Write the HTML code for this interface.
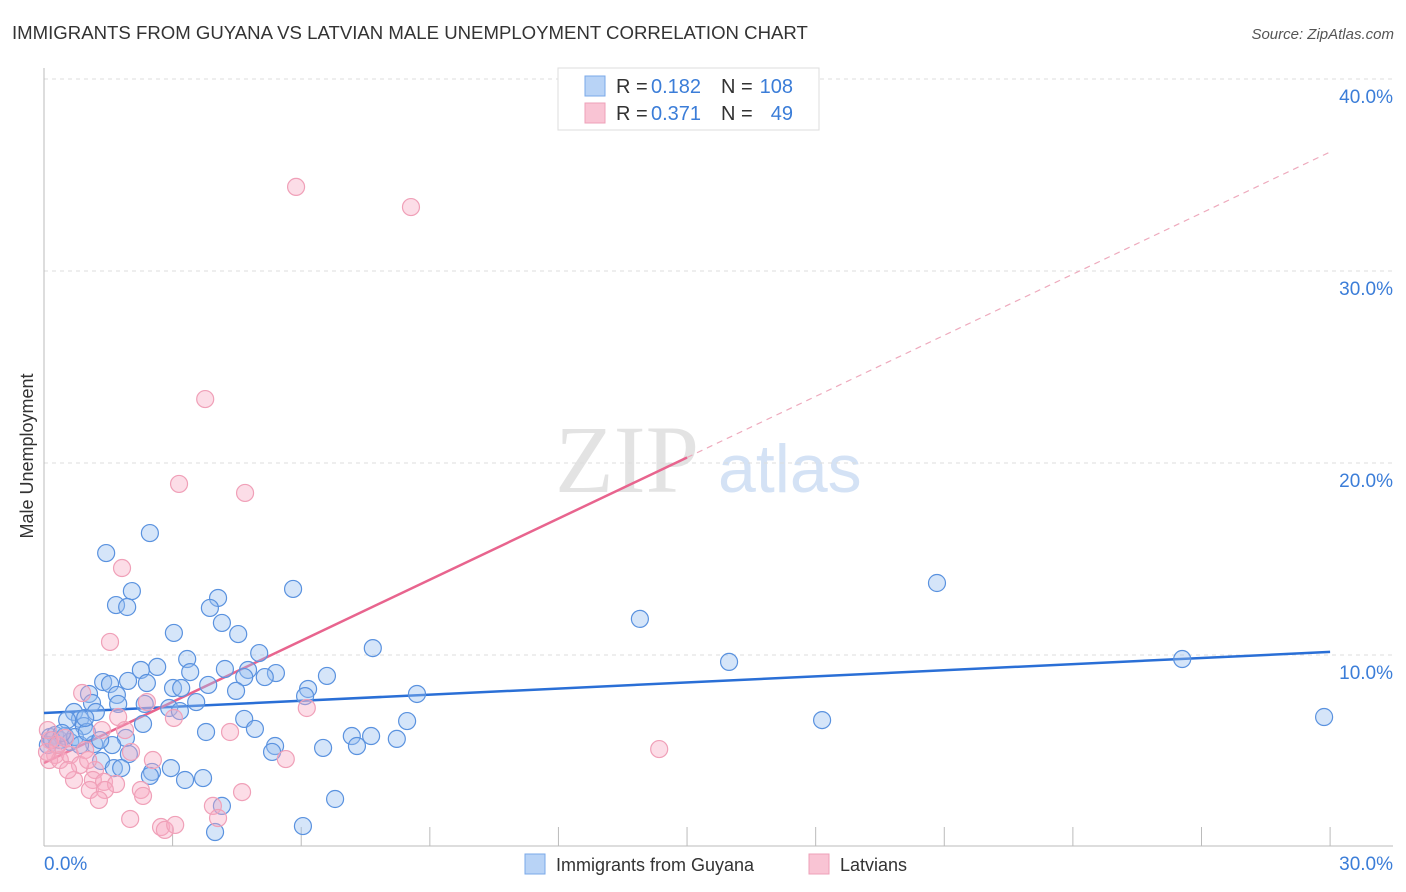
<!DOCTYPE html>
<html><head><meta charset="utf-8"><style>
body{margin:0;background:#fff;font-family:"Liberation Sans",sans-serif;}
svg{display:block}
</style></head><body>
<svg id="c" width="1406" height="892" xmlns="http://www.w3.org/2000/svg">
<text x="12" y="39" font-size="18.6" fill="#333">IMMIGRANTS FROM GUYANA VS LATVIAN MALE UNEMPLOYMENT CORRELATION CHART</text>
<text x="1394" y="39" font-size="15" fill="#555" text-anchor="end" font-style="italic">Source: ZipAtlas.com</text>
<text transform="translate(33,456) rotate(-90)" font-size="18" fill="#333" text-anchor="middle">Male Unemployment</text>
<g>
<text x="555" y="492" font-size="96" fill="#d8d8d8" font-family="Liberation Serif,serif" opacity="0.7">ZIP</text>
<text x="718" y="492" font-size="68" fill="#b8d0f0" opacity="0.6">atlas</text>
</g>
<g id="grid"></g><g id="axes"></g><g id="lines"></g><g id="pts"></g>
<g>
<rect x="558" y="68" width="261" height="62" fill="#fff" stroke="#ddd"/>
<rect x="585" y="76" width="20" height="20" fill="#b8d3f6" stroke="#7aa8e8"/>
<rect x="585" y="103" width="20" height="20" fill="#f9c4d4" stroke="#eea0b8"/>
<text x="616" y="93" font-size="20" fill="#333">R =</text>
<text x="651" y="93" font-size="20" fill="#3b7dd8">0.182</text>
<text x="721" y="93" font-size="20" fill="#333">N =</text>
<text x="793" y="93" font-size="20" fill="#3b7dd8" text-anchor="end">108</text>
<text x="616" y="120" font-size="20" fill="#333">R =</text>
<text x="651" y="120" font-size="20" fill="#3b7dd8">0.371</text>
<text x="721" y="120" font-size="20" fill="#333">N =</text>
<text x="793" y="120" font-size="20" fill="#3b7dd8" text-anchor="end">49</text>
</g>
<g>
<rect x="525" y="854" width="20" height="20" fill="#b8d3f6" stroke="#7aa8e8"/>
<text x="556" y="871" font-size="18" fill="#333">Immigrants from Guyana</text>
<rect x="809" y="854" width="20" height="20" fill="#f9c4d4" stroke="#eea0b8"/>
<text x="840" y="871" font-size="18" fill="#333">Latvians</text>
</g>
</svg>
<script>
const yTicks=[10,20,30,40];
const yTickLabels=["10.0%","20.0%","30.0%","40.0%"];
const xTicks=[0,3,6,9,12,15,18,21,24,27,30];
const blueX=[2.47,1.45,2.05,1.68,1.94,5.81,4.06,3.87,4.15,4.53,3.03,13.9,20.83,7.67,5.02,3.34,15.98,26.55,2.64,2.26,3.41,4.22,4.76,5.41,5.15,6.6,4.67,1.38,1.54,1.96,2.4,3.01,3.2,3.83,4.48,6.16,6.09,8.7,1.05,1.7,3.55,2.92,3.17,2.35,1.12,1.73,1.21,0.7,0.84,0.54,4.67,8.47,18.15,29.86,2.31,0.93,4.92,3.78,7.18,7.63,8.23,7.3,6.51,5.39,5.32,1.91,1.59,1.17,1.98,1.33,1.63,1.8,2.96,2.52,2.47,3.29,3.71,4.15,6.79,3.99,6.04,0.14,0.26,0.37,0.49,0.09,0.61,0.3,0.72,0.84,0.19,0.42,1.0,1.31,0.96];
const blueY=[16.35,15.31,13.33,12.6,12.5,13.44,12.97,12.45,11.67,11.09,11.15,11.88,13.75,10.36,10.1,9.79,9.64,9.79,9.38,9.22,9.11,9.27,9.22,9.06,8.85,8.91,8.85,8.59,8.49,8.65,8.54,8.28,8.28,8.44,8.13,8.23,7.86,7.97,7.97,7.92,7.55,7.24,7.08,7.45,7.5,7.45,7.03,7.03,6.67,6.61,6.67,6.56,6.61,6.77,6.41,6.3,6.15,5.99,5.78,5.78,5.63,5.26,5.16,5.26,4.95,5.68,5.31,5.36,4.84,4.48,4.11,4.11,4.11,3.91,3.7,3.49,3.59,2.14,2.5,0.78,1.09,5.73,5.83,5.57,5.78,5.31,5.47,5.31,5.73,5.31,5.57,5.94,5.99,5.57,6.72];
const pinkX=[5.88,8.56,3.76,3.15,4.69,1.82,1.54,0.89,2.4,1.73,3.03,6.13,4.34,14.35,5.64,2.03,2.54,1.35,1.89,0.26,0.12,0.37,0.61,0.96,1.19,1.14,0.7,1.4,1.68,1.07,1.42,1.28,2.26,2.31,4.62,3.94,4.06,2.01,2.73,2.82,3.06,0.14,0.09,0.33,0.49,0.07,0.84,1.03,0.56];
const pinkY=[34.38,33.33,23.33,18.91,18.44,14.53,10.68,8.02,7.55,6.77,6.72,7.24,5.99,5.1,4.58,4.95,4.53,6.09,6.09,4.79,4.53,4.53,4.79,5.05,4.01,3.49,3.49,3.39,3.28,2.97,2.97,2.45,2.97,2.66,2.86,2.14,1.51,1.46,1.04,0.89,1.15,5.57,6.09,5.31,5.68,4.95,4.27,4.53,4.01];
const blueFit=[6.98,10.16];
const pinkFit=[4.375,36.2];
const pinkSolidEnd=15;
const NS="http://www.w3.org/2000/svg";
const X=v=>44+v*42.87, Y=v=>847-v*19.2;
function mk(p,t,a){const e=document.createElementNS(NS,t);for(const k in a)e.setAttribute(k,a[k]);p.appendChild(e);return e;}
const grid=document.getElementById('grid'),axes=document.getElementById('axes'),lines=document.getElementById('lines'),pts=document.getElementById('pts');
yTicks.forEach((t,i)=>{
 const l=mk(grid,'line',{x1:44,x2:1393,y1:Y(t),y2:Y(t),stroke:'#ddd','stroke-dasharray':'4,4'});
 
 
 const tx=mk(grid,'text',{x:1393,y:Y(t)+24,'font-size':19,fill:'#3b7dd8','text-anchor':'end'});
 tx.textContent=yTickLabels[i];
 
 
});
let a=mk(axes,'line',{x1:44,x2:44,y1:68,y2:846,stroke:'#bbb'});


a=mk(axes,'line',{x1:44,x2:1393,y1:846,y2:846,stroke:'#bbb'});


xTicks.forEach(t=>{
 const l=mk(axes,'line',{x1:X(t),x2:X(t),y1:827,y2:846,stroke:'#bbb'});
 
 
});
let t=mk(axes,'text',{x:44,y:870,'font-size':19,fill:'#3b7dd8'});t.textContent='0.0%';


t=mk(axes,'text',{x:1393,y:870,'font-size':19,fill:'#3b7dd8','text-anchor':'end'});t.textContent='30.0%';


function dots(xs,ys,fill,stroke,name){xs.forEach((x,i)=>{
 const c=mk(pts,'circle',{cx:X(x),cy:Y(ys[i]),r:8.5,fill:fill,stroke:stroke,'stroke-width':1.2});
 
 
});}
dots(blueX,blueY,'rgba(150,190,240,0.4)','#5a92df','guyana-point');
dots(pinkX,pinkY,'rgba(248,170,195,0.4)','#f0a0b8','latvian-point');
const pf=v=>pinkFit[0]+(pinkFit[1]-pinkFit[0])*v/30;
let ln=mk(lines,'line',{x1:X(0),y1:Y(blueFit[0]),x2:X(30),y2:Y(blueFit[1]),stroke:'#2a6fd6','stroke-width':2.5});


ln=mk(lines,'line',{x1:X(0),y1:Y(pf(0)),x2:X(pinkSolidEnd),y2:Y(pf(pinkSolidEnd)),stroke:'#e8648e','stroke-width':2.5});


ln=mk(lines,'line',{x1:X(pinkSolidEnd),y1:Y(pf(pinkSolidEnd)),x2:X(30),y2:Y(pf(30)),stroke:'#eeaabd','stroke-width':1.2,'stroke-dasharray':'6,5'});


</script>
</body></html>
